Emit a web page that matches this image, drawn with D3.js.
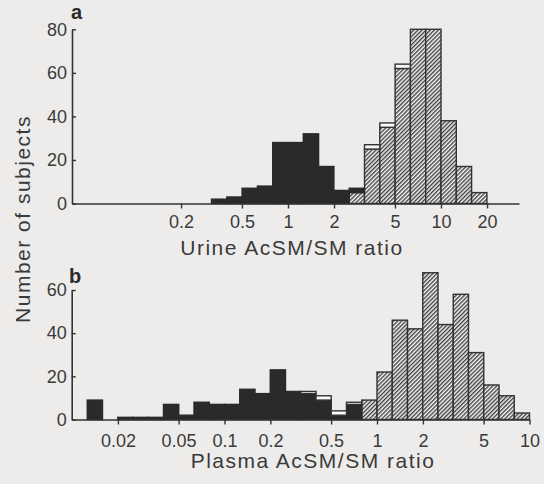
<!DOCTYPE html>
<html>
<head>
<meta charset="utf-8">
<script src="https://cdn.jsdelivr.net/npm/d3@7"></script>
<style>
  html, body { margin: 0; padding: 0; background: #edecea; }
  svg { display: block; }
  text { font-family: "Liberation Sans", Arial, Helvetica, sans-serif; fill: #3a3a3a; }
</style>
</head>
<body>
<div id="chart"></div>
<script>
// panel a - urine, bins are 0.1 wide in log10(ratio), listed by their lower edge
var binLogA = [-0.5,-0.4,-0.3,-0.2,-0.1,0.0,0.1,0.2,0.3,0.4,0.5,0.6,0.7,0.8,0.9,1.0,1.1,1.2]
var blackA  = [2, 3, 7, 8, 28, 28, 32, 17, 6, 2, 0, 0, 0, 0, 0, 0, 0, 0]
var hatchA  = [0, 0, 0, 0, 0, 0, 0, 0, 0, 5, 25, 35, 62, 80, 80, 38, 17, 5]
var whiteA  = [0, 0, 0, 0, 0, 0, 0, 0, 0, 0, 2, 2, 2, 0, 0, 0, 0, 0]
var yTicksA = [0, 20, 40, 60, 80]
var xTicksA = [0.2, 0.5, 1, 2, 5, 10, 20]
var xLabelsA = ["0.2", "0.5", "1", "2", "5", "10", "20"]

// panel b - plasma
var binLogB = [-1.9,-1.8,-1.7,-1.6,-1.5,-1.4,-1.3,-1.2,-1.1,-1.0,-0.9,-0.8,-0.7,-0.6,-0.5,-0.4,-0.3,-0.2,-0.1,0.0,0.1,0.2,0.3,0.4,0.5,0.6,0.7,0.8,0.9]
var blackB  = [9, 0, 1, 1, 1, 7, 2, 8, 7, 7, 14, 12, 23, 13, 12, 9, 2, 7, 0, 0, 0, 0, 0, 0, 0, 0, 0, 0, 0]
var hatchB  = [0, 0, 0, 0, 0, 0, 0, 0, 0, 0, 0, 0, 0, 0, 0, 0, 0, 0, 9, 22, 46, 42, 68, 44, 58, 31, 16, 11, 3]
var whiteB  = [0, 0, 0, 0, 0, 0, 0, 0, 0, 0, 0, 0, 0, 0, 1, 2, 2, 1, 0, 0, 0, 0, 0, 0, 0, 0, 0, 0, 0]
var yTicksB = [0, 20, 40, 60]
var xTicksB = [0.02, 0.05, 0.1, 0.2, 0.5, 1, 2, 5, 10]
var xLabelsB = ["0.02", "0.05", "0.1", "0.2", "0.5", "1", "2", "5", "10"]

var width = 544, height = 484
var ink = "#333"

var svg = d3.select("#chart").append("svg")
    .attr("width", width)
    .attr("height", height)

var defs = svg.append("defs")
var pat = defs.append("pattern")
    .attr("id", "hatch")
    .attr("patternUnits", "userSpaceOnUse")
    .attr("width", 2.9)
    .attr("height", 2.9)
    .attr("patternTransform", "rotate(45)")
pat.append("rect").attr("width", 2.9).attr("height", 2.9).attr("fill", "#f6f6f4")
pat.append("line").attr("x1", 0.7).attr("y1", 0).attr("x2", 0.7).attr("y2", 2.9)
    .attr("stroke", "#3a3a3a").attr("stroke-width", 1.35)

// log x scale whose domain is the drawn axis extent
function logScale(at1, decade, left, right){
    return d3.scaleLog()
        .domain([Math.pow(10, (left - at1) / decade), Math.pow(10, (right - at1) / decade)])
        .range([left, right])
}

function panel(o){
    var g = svg.append("g")
    var x = logScale(o.at1, o.decade, o.left, o.right)
    var y = d3.scaleLinear().domain([0, o.yMax]).range([o.base, o.top])

    var table = o.bins.map(function(b, i){
        return {lo: Math.pow(10, b), hi: Math.pow(10, b + 0.1),
                hatch: o.hatch[i], black: o.black[i], white: o.white[i]}
    })
    var stack = d3.stack().keys(["hatch", "black", "white"])(table)

    var fills = {hatch: "url(#hatch)", black: "#2a2a2a", white: "#f8f8f6"}
    stack.forEach(function(layer){
        g.append("g").selectAll("rect")
            .data(layer.filter(function(d){ return d[1] > d[0] }))
            .enter().append("rect")
            .attr("x", function(d){ return x(d.data.lo) })
            .attr("width", function(d){ return x(d.data.hi) - x(d.data.lo) })
            .attr("y", function(d){ return y(d[1]) })
            .attr("height", function(d){ return y(d[0]) - y(d[1]) })
            .attr("fill", fills[layer.key])
            .attr("stroke", layer.key == "black" ? "#2a2a2a" : ink)
            .attr("stroke-width", 1.4)
    })

    var xAxis = g.append("g")
        .attr("transform", "translate(0," + o.base + ")")
        .call(d3.axisBottom(x).tickValues(o.xTicks)
            .tickFormat(function(d, i){ return o.xLabels[i] })
            .tickSize(5).tickSizeOuter(0).tickPadding(o.xPad))
    xAxis.selectAll("text").style("font-size", "18px").style("fill", "#3a3a3a")

    var yAxis = g.append("g")
        .attr("transform", "translate(" + o.left + ",0)")
        .call(d3.axisLeft(y).tickValues(o.yTicks)
            .tickSize(-4).tickSizeOuter(0).tickPadding(5))
    yAxis.selectAll("text").style("font-size", "18px").style("fill", "#3a3a3a")

    ;[xAxis, yAxis].forEach(function(a){
        a.select(".domain").attr("stroke", ink).attr("stroke-width", 1.6)
        a.selectAll(".tick line").attr("stroke", ink).attr("stroke-width", 1.4)
    })

    g.append("text")
        .attr("x", o.letterX).attr("y", o.letterY)
        .style("font-size", "20px").style("font-weight", "bold")
        .style("fill", "#2a2a2a")
        .text(o.letter)

    g.append("text")
        .attr("x", o.titleX).attr("y", o.titleY)
        .attr("text-anchor", "middle")
        .style("font-size", "21px").style("letter-spacing", "1.5px")
        .text(o.title)
}

panel({bins: binLogA, black: blackA, hatch: hatchA, white: whiteA,
       at1: 288, decade: 153, left: 72, right: 519,
       base: 203.5, top: 29.3, yMax: 80, yTicks: yTicksA,
       xTicks: xTicksA, xLabels: xLabelsA, xPad: 6.5,
       letter: "a", letterX: 71, letterY: 19,
       title: "Urine AcSM/SM ratio", titleX: 292, titleY: 255})

panel({bins: binLogB, black: blackB, hatch: hatchB, white: whiteB,
       at1: 377, decade: 152.5, left: 71.7, right: 529,
       base: 419.5, top: 290, yMax: 60, yTicks: yTicksB,
       xTicks: xTicksB, xLabels: xLabelsB, xPad: 9.5,
       letter: "b", letterX: 69, letterY: 283,
       title: "Plasma AcSM/SM ratio", titleX: 313, titleY: 468})

svg.append("text")
    .attr("transform", "translate(30,219) rotate(-90)")
    .attr("text-anchor", "middle")
    .style("font-size", "21px").style("letter-spacing", "1.5px")
    .text("Number of subjects")
</script>
</body>
</html>
